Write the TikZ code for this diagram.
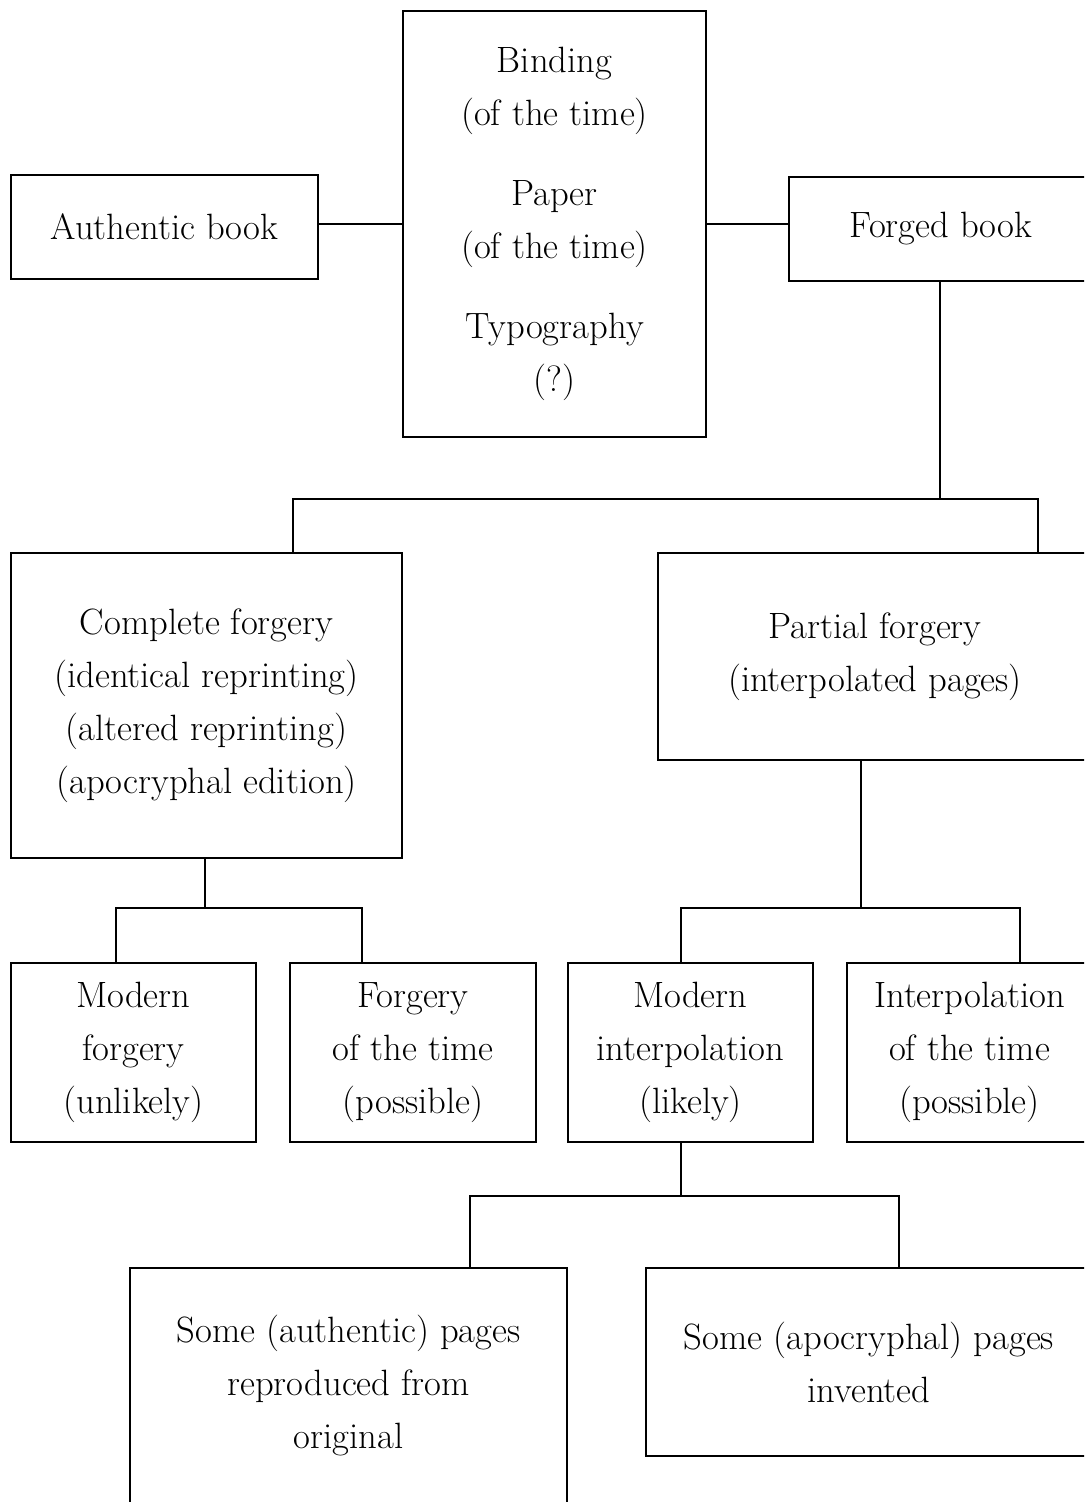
\documentclass[tikz,border=0pt]{standalone}
\usepackage{tikz}
\begin{document}
\begin{tikzpicture}[x=0.5pt,y=-0.5pt,
  bx/.style={draw,line width=1pt,align=center,inner sep=0pt,
    font=\fontsize{18.3}{26.5}\selectfont},
  ln/.style={line width=1pt}]
\useasboundingbox (0,0) rectangle (1084,1502);
\clip (0,0) rectangle (1084,1502);
% top row
\node[bx,minimum width=153.5pt,minimum height=52pt] (auth) at (164.5,227) {Authentic book};
\node[bx,minimum width=151.5pt,minimum height=213pt] (mid) at (554.5,224)
  {Binding\\(of the time)\\[13.5pt]Paper\\(of the time)\\[13.5pt]Typography\\(?)};
\node[bx,minimum width=152pt,minimum height=52pt] (forged) at (941,229) {Forged book};
% second row
\node[bx,minimum width=195.5pt,minimum height=152.5pt] (complete) at (206.5,705.5)
  {Complete forgery\\(identical reprinting)\\(altered reprinting)\\(apocryphal edition)};
\node[bx,minimum width=217pt,minimum height=103.5pt] (partial) at (875,656.5)
  {Partial forgery\\(interpolated pages)};
% third row
\node[bx,minimum width=122.5pt,minimum height=89.5pt] (mf) at (133.5,1052.5) {Modern\\forgery\\(unlikely)};
\node[bx,minimum width=123pt,minimum height=89.5pt] (ft) at (413,1052.5) {Forgery\\of the time\\(possible)};
\node[bx,minimum width=122.5pt,minimum height=89.5pt] (mi) at (690.5,1052.5) {Modern\\interpolation\\(likely)};
\node[bx,minimum width=122.5pt,minimum height=89.5pt] (it) at (969.5,1052.5) {Interpolation\\of the time\\(possible)};
% fourth row
\node[bx,minimum width=218.5pt,minimum height=118pt] (sa) at (348.5,1386)
  {Some (authentic) pages\\reproduced from\\original};
\node[bx,minimum width=223pt,minimum height=94pt] (sp) at (869,1362)
  {Some (apocryphal) pages\\invented};
% connectors
\coordinate (aE) at (auth.east |- 0,224);
\draw[ln] (aE) -- (aE -| mid.west);
\draw[ln] (mid.east) -- (mid.east -| forged.west);
\coordinate (fS) at (forged.south -| 940,0);
\coordinate (cA) at (complete.north -| 293,0);
\coordinate (cB) at (partial.north -| 1038,0);
\draw[ln] (fS) -- (fS |- 0,499);
\draw[ln] (cA) -- (cA |- 0,499) -| (cB);
\coordinate (cS) at (complete.south -| 205,0);
\coordinate (mfT) at (mf.north -| 116,0);
\coordinate (ftT) at (ft.north -| 362,0);
\draw[ln] (cS) -- (cS |- 0,908);
\draw[ln] (mfT) -- (mfT |- 0,908) -| (ftT);
\coordinate (pS) at (partial.south -| 861,0);
\coordinate (miT) at (mi.north -| 681,0);
\coordinate (itT) at (it.north -| 1020,0);
\draw[ln] (pS) -- (pS |- 0,908);
\draw[ln] (miT) -- (miT |- 0,908) -| (itT);
\coordinate (mS) at (mi.south -| 681,0);
\coordinate (saT) at (sa.north -| 470,0);
\coordinate (spT) at (sp.north -| 899,0);
\draw[ln] (mS) -- (mS |- 0,1196);
\draw[ln] (saT) -- (saT |- 0,1196) -| (spT);
\end{tikzpicture}
\end{document}
